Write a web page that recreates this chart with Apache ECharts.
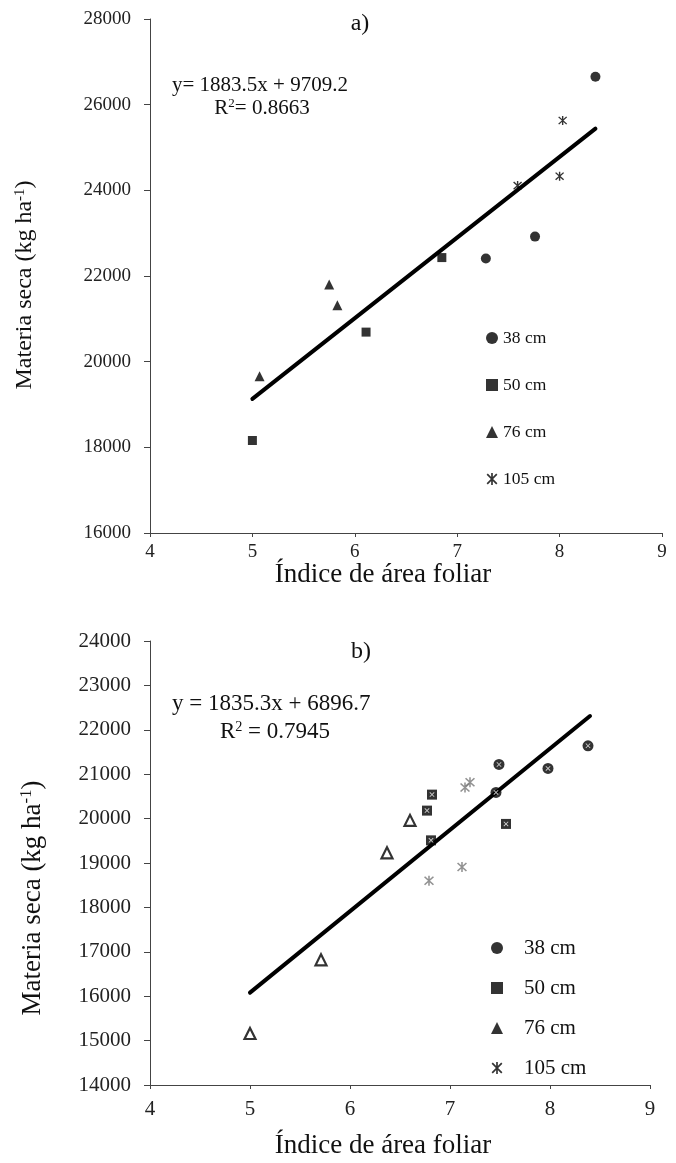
<!DOCTYPE html>
<html>
<head>
<meta charset="utf-8">
<script src="https://cdn.jsdelivr.net/npm/echarts@6/dist/echarts.min.js"></script>
<style>
  html, body { margin: 0; padding: 0; background: #fff; }
  #chart { width: 676px; height: 1163px; }
</style>
</head>
<body>
<div id="chart"></div>
<script>
// a) puntos [IAF, materia seca]
const top38 = [[7.28, 22410], [7.76, 22920], [8.35, 26650]];
const top50 = [[5.0, 18160], [6.11, 20690], [6.85, 22430]];
const top76 = [[5.07, 19660], [5.75, 21800], [5.83, 21320]];
const top105 = [[7.59, 24110], [8.0, 24330], [8.03, 25630]];
const topLine = [[5.0, 19130], [8.35, 25440]];

// b)
const bot38 = [[7.46, 20590], [7.49, 21220], [7.98, 21130], [8.38, 21640]];
const bot50 = [[6.77, 20180], [6.81, 19510], [6.82, 20540], [7.56, 19880]];
const bot76 = [[5.0, 15160], [5.71, 16820], [6.37, 19230], [6.6, 19960]];
const bot105 = [[6.79, 18600], [7.12, 18910], [7.15, 20700], [7.2, 20820]];
const botLine = [[5.0, 16080], [8.4, 22310]];

const legendNames = ["38 cm", "50 cm", "76 cm", "105 cm"];
const xTicks = { min: 4, max: 9, interval: 1 };
const topY = { min: 16000, max: 28000, interval: 2000 };
const botY = { min: 14000, max: 24000, interval: 1000 };

const FONT = "'Liberation Serif', 'Times New Roman', serif";
const STAR = "path://M4.3 0L5.7 0L5.7 10L4.3 10ZM0.5 1.5L1.5 0.5L9.5 8.5L8.5 9.5ZM8.5 0.5L9.5 1.5L1.5 9.5L0.5 8.5Z";
const XMARK = "path://M0.5 1.5L1.5 0.5L9.5 8.5L8.5 9.5ZM8.5 0.5L9.5 1.5L1.5 9.5L0.5 8.5Z";
const icons = ["circle", "rect", "triangle", STAR];

const chart = echarts.init(document.getElementById("chart"));

function xAxisFor(grid, fs, margin) {
  return {
    gridIndex: grid, type: "value", ...xTicks,
    axisLine: { lineStyle: { color: "#444", width: 1 } },
    axisTick: { length: 4, lineStyle: { color: "#444" } },
    axisLabel: { color: "#222", fontFamily: FONT, fontSize: fs, margin: margin, formatter: (v) => String(v) },
    splitLine: { show: false }
  };
}
function yAxisFor(grid, range, fs) {
  return {
    gridIndex: grid, type: "value", ...range,
    axisLine: { show: true, lineStyle: { color: "#444", width: 1 } },
    axisTick: { show: true, length: 6, lineStyle: { color: "#444" } },
    axisLabel: { color: "#222", fontFamily: FONT, fontSize: fs, margin: 19, formatter: (v) => String(v) },
    splitLine: { show: false }
  };
}
function pts(name, data, idx, symbol, size, style) {
  return {
    name: name, type: "scatter", xAxisIndex: idx, yAxisIndex: idx,
    data: data, symbol: symbol, symbolSize: size,
    itemStyle: style || { color: "#000" }, silent: true, z: 3
  };
}
function fit(data, idx) {
  return {
    type: "line", xAxisIndex: idx, yAxisIndex: idx, data: data,
    symbol: "none", silent: true, z: 2,
    lineStyle: { color: "#000", width: 4, cap: "round" }
  };
}
function legendFor(left, top, size, fs, lh, gap, padLeft) {
  return {
    orient: "vertical", left: left, top: top, itemWidth: size, itemHeight: size,
    itemGap: gap, selectedMode: false,
    data: legendNames.map((n, i) => ({ name: n, icon: icons[i] })),
    itemStyle: { color: "#000" },
    textStyle: { color: "#111", fontFamily: FONT, fontSize: fs, lineHeight: lh, padding: [0, 0, 0, padLeft] }
  };
}
function txt(x, y, text, fs, align, rot) {
  return {
    type: "text", x: x, y: y, rotation: rot || 0, silent: true,
    style: {
      text: text, fill: "#111", fontFamily: FONT, fontSize: fs,
      align: align || "left", verticalAlign: "middle",
      rich: { s: { fontSize: fs * 0.62, verticalAlign: "top", padding: [0, 0, fs * 0.45, 0], fontFamily: FONT, fill: "#111" } }
    }
  };
}

chart.setOption({
  animation: false,
  backgroundColor: "#fff",
  grid: [
    { left: 150, top: 19, width: 512, height: 514 },
    { left: 150, top: 641, width: 500, height: 444 }
  ],
  xAxis: [xAxisFor(0, 19, 10), xAxisFor(1, 21, 14)],
  yAxis: [yAxisFor(0, topY, 19), yAxisFor(1, botY, 21)],
  legend: [
    legendFor(481, 323, 12, 17.5, 20, 27, 0),
    legendFor(486, 932, 12, 21, 22, 18, 16)
  ],
  graphic: [
    txt(360, 24, "a)", 24, "center"),
    txt(172, 85, "y= 1883.5x + 9709.2", 21),
    txt(262, 108, "R{s|2}= 0.8663", 21, "center"),
    txt(383, 575, "Índice de área foliar", 27, "center"),
    txt(25, 285, "Materia seca (kg ha{s|-1})", 24, "center", Math.PI / 2),
    txt(361, 652, "b)", 24, "center"),
    txt(172, 704, "y = 1835.3x + 6896.7", 23),
    txt(275, 732, "R{s|2} = 0.7945", 23, "center"),
    txt(383, 1146, "Índice de área foliar", 27, "center"),
    txt(33, 898, "Materia seca (kg ha{s|-1})", 27, "center", Math.PI / 2)
  ],
  series: [
    fit(topLine, 0),
    pts("38 cm", top38, 0, "circle", 10),
    pts("50 cm", top50, 0, "rect", 9),
    pts("76 cm", top76, 0, "triangle", 10),
    pts("105 cm", top105, 0, STAR, 9),

    fit(botLine, 1),
    pts("38 cm", bot38, 1, "circle", 11),
    pts("50 cm", bot50, 1, "rect", 10),
    pts("76 cm", bot76, 1, "triangle", 11, { color: "#fff", borderColor: "#000", borderWidth: 2.2 }),
    pts("105 cm", bot105, 1, STAR, 10, { color: "#777" }),
    // marcas blancas internas de los símbolos en b)
    { type: "scatter", xAxisIndex: 1, yAxisIndex: 1, data: bot38.concat(bot50), symbol: XMARK,
      symbolSize: 5, itemStyle: { color: "#fff" }, silent: true, z: 4 }
  ]
});
</script>
</body>
</html>
